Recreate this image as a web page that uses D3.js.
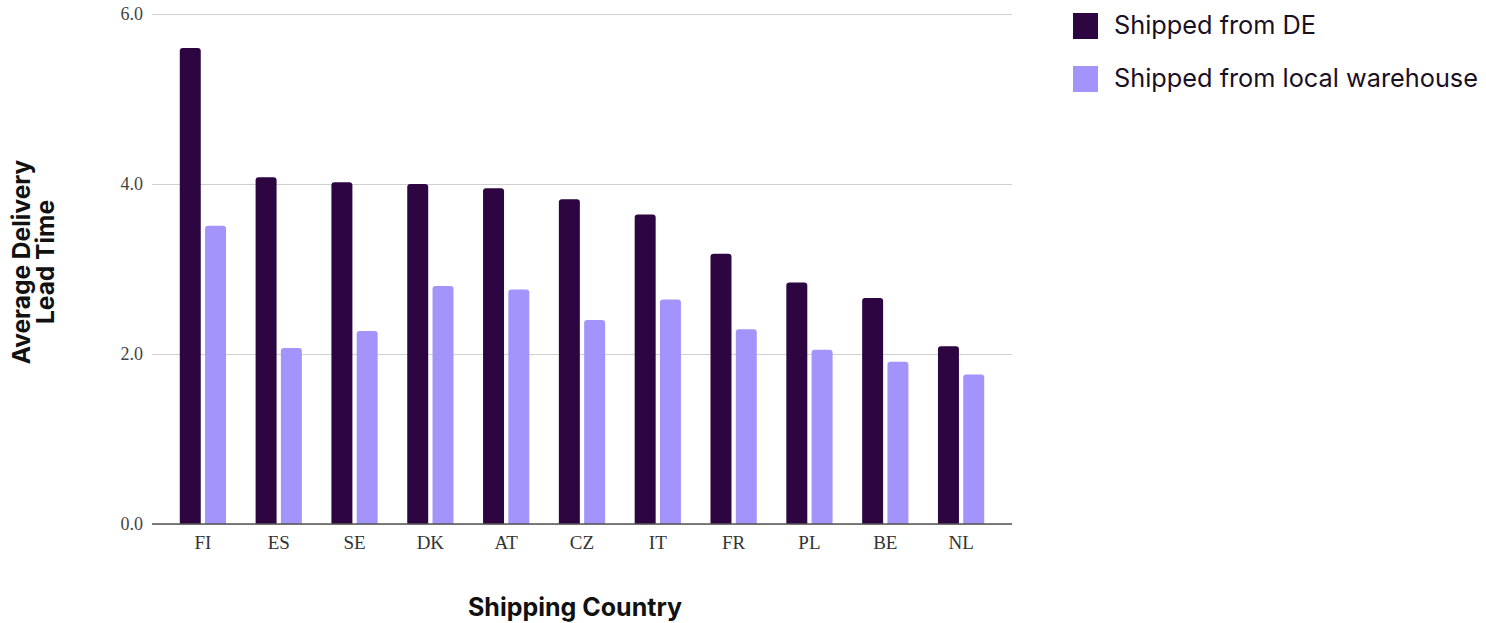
<!DOCTYPE html>
<html><head><meta charset="utf-8">
<script src="https://cdn.jsdelivr.net/npm/d3@7"></script>
<style>body{margin:0;background:#fff}</style>
</head><body>
<svg id="c" width="1486" height="623"></svg>
<script>
const categories = ["FI","ES","SE","DK","AT","CZ","IT","FR","PL","BE","NL"];
const seriesNames = ["Shipped from DE","Shipped from local warehouse"];
const shippedFromDE = [5.60,4.08,4.02,4.00,3.95,3.82,3.64,3.18,2.84,2.66,2.09];
const shippedFromLocal = [3.51,2.07,2.27,2.80,2.76,2.40,2.64,2.29,2.05,1.91,1.76];
const yTicks = [0,2,4,6];
const colors = ["#2d0540","#a294fb"];

(function(){
const svg = d3.select("#c");
const mLeft = 152, mRight = 1012, mTop = 14, mBottom = 524;
const y = d3.scaleLinear().domain([0,6]).range([mBottom, mTop]);
const x = d3.scaleBand().domain(categories).range([165, 999]).paddingInner(0.39).paddingOuter(0.195);
const xs = d3.scaleBand().domain(seriesNames).range([0, x.bandwidth()]).paddingInner(0.17);

// grid
const yAxis = d3.axisLeft(y).tickValues(yTicks).tickFormat(d3.format(".1f")).tickSize(-(mRight-mLeft)).tickPadding(9);
const gy = svg.append("g").attr("transform",`translate(${mLeft},0)`).call(yAxis);
gy.select(".domain").remove();
gy.selectAll(".tick line").attr("stroke","#d0d0d0").attr("stroke-width",1.2);
gy.selectAll(".tick text").attr("font-family","Liberation Serif, serif").attr("font-size",18).attr("fill","#444");

const data = categories.map((c,i)=>({c, vals:[shippedFromDE[i], shippedFromLocal[i]]}));
const r = 3;
function barPath(x0, w, y0, y1){
  return `M${x0},${y1}V${y0+r}Q${x0},${y0} ${x0+r},${y0}H${x0+w-r}Q${x0+w},${y0} ${x0+w},${y0+r}V${y1}Z`;
}
const g = svg.append("g");
data.forEach(d=>{
  d.vals.forEach((v,j)=>{
    const x0 = x(d.c) + xs(seriesNames[j]);
    g.append("path").attr("d", barPath(x0, xs.bandwidth(), y(v), y(0))).attr("fill", colors[j]);
  });
});

// x axis
const xAxis = d3.axisBottom(x).tickSize(0).tickPadding(12);
const gx = svg.append("g").attr("transform",`translate(0,${mBottom})`).call(xAxis);
gx.select(".domain").remove();
svg.append("line").attr("x1",mLeft).attr("x2",mRight).attr("y1",mBottom).attr("y2",mBottom).attr("stroke","#555").attr("stroke-width",1.3);
gx.selectAll(".tick text").attr("font-family","Liberation Serif, serif").attr("font-size",19).attr("fill","#333");

// titles
svg.append("text").attr("x",575).attr("y",616).attr("text-anchor","middle")
  .attr("font-family","Inter, sans-serif").attr("font-weight",700).attr("font-size",25).attr("fill","#111").text("Shipping Country");
const yt = svg.append("text").attr("transform","translate(0,262) rotate(-90)").attr("text-anchor","middle")
  .attr("font-family","Inter, sans-serif").attr("font-weight",700).attr("font-size",24.5).attr("fill","#111");
yt.append("tspan").attr("x",0).attr("y",30).text("Average Delivery");
yt.append("tspan").attr("x",0).attr("y",54).text("Lead Time");

// legend
const lg = svg.append("g");
seriesNames.forEach((s,i)=>{
  lg.append("rect").attr("x",1073).attr("y",13+i*53).attr("width",25).attr("height",26).attr("fill",colors[i]);
  lg.append("text").attr("x",1114).attr("y",34+i*53).attr("font-family","Inter, sans-serif").attr("font-size",25.3).attr("fill","#1a1024").text(s);
});
})();
</script>
</body></html>
